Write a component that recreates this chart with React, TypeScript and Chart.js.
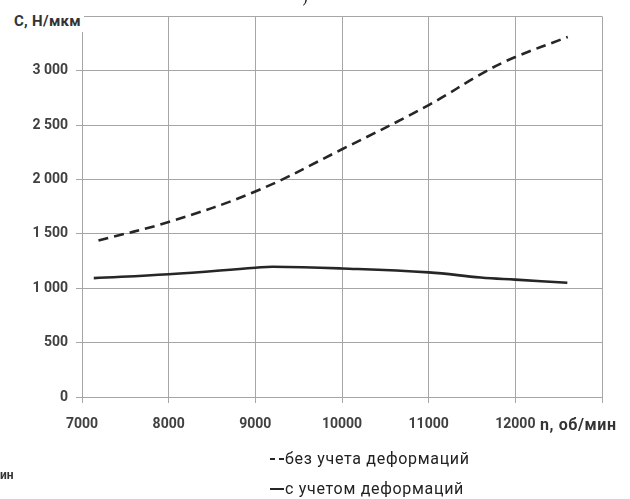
import React, { useEffect, useRef } from "react";
import { Chart, registerables } from "chart.js";

Chart.register(...registerables);

// Data (n in об/мин, C in Н/мкм)
const rpmWithoutDeform = [7190, 8000, 9000, 10000, 11000, 11660, 12000, 12605];
const stiffWithoutDeform = [1440, 1610, 1890, 2278, 2685, 2995, 3126, 3311];

const rpmWithDeform = [7136, 8000, 9000, 9200, 10000, 11000, 11600, 12000, 12600];
const stiffWithDeform = [1093, 1129, 1188, 1198, 1182, 1146, 1099, 1079, 1050];

const seriesNames = ["без учета деформаций", "с учетом деформаций"];
const xAxisTitle = "n, об/мин";
const yAxisTitle = "C, Н/мкм";

const X_MIN = 7000;
const X_MAX = 13000;
const X_STEP = 1000;
const Y_MIN = 0;
const Y_MAX = 3500;
const Y_STEP = 500;

const GRID = "#a6a6a6";
const LINE = "#262626";
const TICK_TEXT = "#404040";
const FONT = "Roboto, 'Noto Sans', 'DejaVu Sans', sans-serif";

function formatThousands(v: number): string {
  if (v >= 1000) {
    const th = Math.floor(v / 1000);
    const rest = String(v % 1000).padStart(3, "0");
    return `${th} ${rest}`;
  }
  return String(v);
}

export default function App() {
  const canvasRef = useRef<HTMLCanvasElement | null>(null);

  useEffect(() => {
    const canvas = canvasRef.current;
    if (!canvas) return;
    const toPoints = (xs: number[], ys: number[]) => xs.map((x, i) => ({ x, y: ys[i] }));

    const chart = new Chart(canvas, {
      type: "scatter",
      data: {
        datasets: [
          {
            label: seriesNames[0],
            data: toPoints(rpmWithoutDeform, stiffWithoutDeform),
            showLine: true,
            borderColor: LINE,
            backgroundColor: LINE,
            borderWidth: 2.6,
            borderDash: [10, 6],
            pointRadius: 0,
            tension: 0.4,
          },
          {
            label: seriesNames[1],
            data: toPoints(rpmWithDeform, stiffWithDeform),
            showLine: true,
            borderColor: LINE,
            backgroundColor: LINE,
            borderWidth: 2.6,
            pointRadius: 0,
            tension: 0.4,
          },
        ],
      },
      options: {
        responsive: false,
        animation: false,
        devicePixelRatio: 1,
        layout: { padding: { left: 0, right: 28, top: 14, bottom: 62 } },
        plugins: {
          legend: { display: false },
          tooltip: { enabled: false },
          title: { display: false },
        },
        scales: {
          x: {
            type: "linear",
            min: X_MIN,
            max: X_MAX,
            afterFit: (scale: any) => {
              scale.height = 40;
            },
            ticks: {
              stepSize: X_STEP,
              autoSkip: false,
              maxRotation: 0,
              padding: 13,
              color: TICK_TEXT,
              font: { family: FONT, size: 14, weight: "bold" },
              callback: (v: any) => (Number(v) === X_MAX ? "" : String(v)),
            },
            grid: {
              color: GRID,
              lineWidth: 1,
              tickLength: 6,
              drawTicks: true,
            },
            border: { display: true, color: GRID, width: 1 },
          },
          y: {
            type: "linear",
            min: Y_MIN,
            max: Y_MAX,
            afterFit: (scale: any) => {
              scale.width = 82;
            },
            ticks: {
              stepSize: Y_STEP,
              autoSkip: false,
              padding: 8,
              color: TICK_TEXT,
              font: { family: FONT, size: 14, weight: "bold" },
              callback: (v: any) => (Number(v) === Y_MAX ? "" : formatThousands(Number(v))),
            },
            grid: {
              color: GRID,
              lineWidth: 1,
              tickLength: 6,
              drawTicks: true,
              tickColor: (ctx: any) => (ctx.tick && ctx.tick.value === Y_MAX ? "rgba(0,0,0,0)" : GRID),
            },
            border: { display: true, color: GRID, width: 1 },
          },
        },
      },
    } as any);

    return () => chart.destroy();
  }, []);

  const textBase: React.CSSProperties = {
    position: "absolute",
    fontFamily: FONT,
    whiteSpace: "nowrap",
    lineHeight: "1",
  };

  const legendText: React.CSSProperties = {
    fontFamily: FONT,
    fontSize: 16,
    color: "#222",
    letterSpacing: "0.7px",
    lineHeight: "18px",
  };

  return (
    <div
      style={{
        position: "absolute",
        left: 0,
        top: 0,
        width: 630,
        height: 499,
        background: "#ffffff",
        overflow: "hidden",
      }}
    >
      <canvas ref={canvasRef} width={630} height={499} style={{ display: "block", width: 630, height: 499 }} />

      {/* partial caption fragment at the top */}
      <div style={{ ...textBase, left: 302, top: -10, fontFamily: "'DejaVu Serif', serif", fontSize: 16, color: "#222" }}>)</div>

      {/* y-axis title */}
      <div
        style={{
          ...textBase,
          left: 4,
          top: 12,
          width: 80,
          height: 20,
          background: "#ffffff",
          textAlign: "right",
          fontSize: 15,
          fontWeight: "bold",
          color: "#333",
          letterSpacing: "0.3px",
          paddingTop: 2,
          boxSizing: "border-box",
          paddingRight: 3,
        }}
      >
        {yAxisTitle}
      </div>

      {/* x-axis title */}
      <div style={{ ...textBase, left: 540, top: 417, fontSize: 16, fontWeight: "bold", color: "#333", letterSpacing: "0.6px" }}>
        {xAxisTitle}
      </div>

      {/* legend */}
      <div style={{ position: "absolute", left: 270, top: 450, height: 18, display: "flex", alignItems: "center" }}>
        <span style={{ display: "inline-block", width: 5, height: 2.6, background: LINE, marginRight: 4 }} />
        <span style={{ display: "inline-block", width: 5, height: 2.6, background: LINE, marginRight: 1 }} />
        <span style={legendText}>{seriesNames[0]}</span>
      </div>
      <div style={{ position: "absolute", left: 270, top: 480, height: 18, display: "flex", alignItems: "center" }}>
        <span style={{ display: "inline-block", width: 14, height: 2.6, background: LINE, marginRight: 1 }} />
        <span style={legendText}>{seriesNames[1]}</span>
      </div>

      {/* fragment of a neighbouring caption at the left edge */}
      <div style={{ ...textBase, left: 0, top: 469, fontSize: 12, fontWeight: "bold", color: "#333" }}>ин</div>
    </div>
  );
}
